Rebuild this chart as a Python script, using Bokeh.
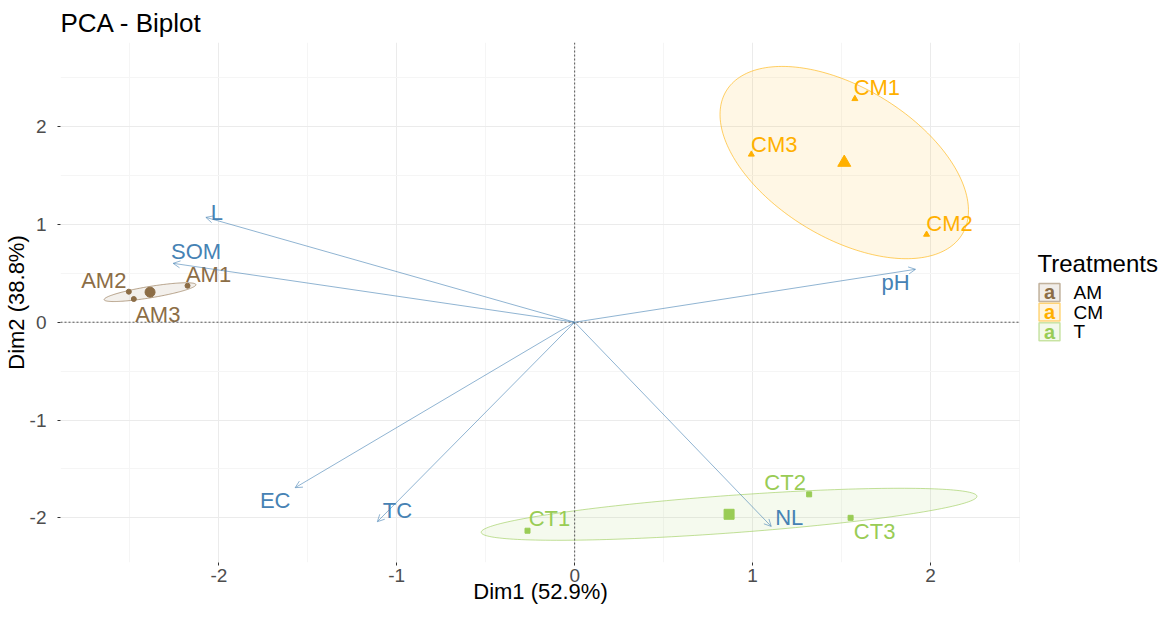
import numpy as np
from bokeh.plotting import figure
from bokeh.models import Range1d, FixedTicker, Span, Arrow, OpenHead, ColumnDataSource
from bokeh.layouts import row
from bokeh.embed import file_html
from bokeh.resources import INLINE
from bokeh.core.properties import value

FONT = "Liberation Sans"

# ---------------- data ----------------
ind_names = ["AM1", "AM2", "AM3", "CM1", "CM2", "CM3", "CT1", "CT2", "CT3"]
ind_group = ["AM", "AM", "AM", "CM", "CM", "CM", "T", "T", "T"]
ind_dim1 = [-2.176, -2.506, -2.478, 1.575, 1.978, 0.993, -0.265, 1.318, 1.551]
ind_dim2 = [0.373, 0.312, 0.237, 2.284, 0.897, 1.716, -2.132, -1.760, -2.000]

var_names = ["L", "SOM", "pH", "EC", "TC", "NL"]
var_dim1 = [-2.073, -2.257, 1.916, -1.571, -1.109, 1.105]
var_dim2 = [1.072, 0.602, 0.541, -1.692, -2.040, -2.088]

groups = ["AM", "CM", "T"]
group_colors = ["#8C6D46", "#FFB000", "#99CC55"]
group_markers = ["circle", "triangle", "square"]

x_ticks = [-2, -1, 0, 1, 2]
y_ticks = [-2, -1, 0, 1, 2]
tick_labels = ["-2", "-1", "0", "1", "2"]
minor_ticks = [-2.5, -1.5, -0.5, 0.5, 1.5, 2.5]
x_title = "Dim1 (52.9%)"
y_title = "Dim2 (38.8%)"

# label placement (screen pixel offsets, layout only)
ind_label_dx = [21, -25, 24, 22, 23, 23, 22, -24, 24]
ind_label_dy = [-11, -11, 15, -11, -11, -10, -12, -12, 14]
var_label_dx = [11, 23, -20, -20, 20, 18]
var_label_dy = [-5, -12, 13, 13, -11, -9]

ELL_K = 1.41
VAR_COLOR = "#4682B4"
X_MIN, X_MAX = -2.89, 2.506
Y_MIN, Y_MAX = -2.457, 2.86

p = figure(frame_width=960, frame_height=520,
           x_range=Range1d(X_MIN, X_MAX), y_range=Range1d(Y_MIN, Y_MAX),
           output_backend="svg", toolbar_location=None, title="PCA - Biplot",
           min_border_left=52, min_border_right=0, min_border_top=35,
           min_border_bottom=45)
p.outline_line_color = None
p.title.text_font = FONT
p.title.text_font_size = "26px"
p.title.text_font_style = "normal"
p.title.text_color = "black"

p.xaxis.ticker = FixedTicker(ticks=x_ticks, minor_ticks=minor_ticks)
p.yaxis.ticker = FixedTicker(ticks=y_ticks, minor_ticks=minor_ticks)
p.xaxis.major_label_overrides = dict(zip(x_ticks, tick_labels))
p.yaxis.major_label_overrides = dict(zip(y_ticks, tick_labels))
p.xaxis.axis_label = x_title
p.yaxis.axis_label = y_title
for ax in (p.xaxis, p.yaxis):
    ax.axis_line_color = None
    ax.major_tick_line_color = "#333333"
    ax.major_tick_out = 3
    ax.major_tick_in = 0
    ax.minor_tick_line_color = None
    ax.major_label_text_font = FONT
    ax.major_label_text_font_size = "19px"
    ax.major_label_text_color = "#4D4D4D"
    ax.axis_label_text_font = FONT
    ax.axis_label_text_font_size = "22px"
    ax.axis_label_text_font_style = "normal"
    ax.axis_label_text_color = "black"
p.xaxis.major_label_standoff = 2
p.xaxis.axis_label_standoff = -6
p.yaxis.major_label_standoff = 10
p.yaxis.axis_label_standoff = -2
for g in (p.xgrid, p.ygrid):
    g.grid_line_color = "#EBEBEB"
    g.grid_line_width = 1
    g.minor_grid_line_color = "#F5F5F5"
    g.minor_grid_line_width = 1

# ellipses
ix = np.array(ind_dim1)
iy = np.array(ind_dim2)
ig = np.array(ind_group)
t = np.linspace(0, 2 * np.pi, 200)
for gname, col in zip(groups, group_colors):
    m = ig == gname
    pts = np.vstack([ix[m], iy[m]])
    mu = pts.mean(axis=1)
    cov = np.cov(pts)
    w, v = np.linalg.eigh(cov)
    circ = np.vstack([np.cos(t), np.sin(t)])
    ell = mu[:, None] + ELL_K * (v @ (np.sqrt(np.maximum(w, 0))[:, None] * circ))
    p.patch(ell[0], ell[1], fill_color=col, fill_alpha=0.1,
            line_color=col, line_alpha=0.6, line_width=1)

# zero lines
p.add_layout(Span(location=0, dimension="height", line_dash="2 2",
                  line_color="#555555", line_width=1))
p.add_layout(Span(location=0, dimension="width", line_dash="2 2",
                  line_color="#555555", line_width=1))

# individual points, centroids and labels
for gname, col, mk in zip(groups, group_colors, group_markers):
    m = ig == gname
    src = ColumnDataSource(dict(
        x=ix[m], y=iy[m],
        name=[n for n, k in zip(ind_names, m) if k],
        dx=[d for d, k in zip(ind_label_dx, m) if k],
        dy=[d for d, k in zip(ind_label_dy, m) if k]))
    p.scatter("x", "y", source=src, marker=mk, size=5 if mk != "triangle" else 6,
              color=col)
    p.scatter([ix[m].mean()], [iy[m].mean()], marker=mk,
              size=10 if mk != "triangle" else 13, color=col)
    p.text("x", "y", text="name", x_offset="dx", y_offset="dy", source=src,
           text_font=value(FONT), text_font_size="22px", text_color=col,
           text_align="center", text_baseline="middle")

# variable arrows
vsrc = ColumnDataSource(dict(x0=[0.0] * len(var_names), y0=[0.0] * len(var_names),
                             x1=var_dim1, y1=var_dim2, name=var_names,
                             dx=var_label_dx, dy=var_label_dy))
p.add_layout(Arrow(source=vsrc, x_start="x0", y_start="y0", x_end="x1", y_end="y1",
                   line_color=VAR_COLOR, line_alpha=0.6, line_width=1,
                   end=OpenHead(size=7, line_color=VAR_COLOR, line_alpha=0.6,
                                line_width=1)))
p.text("x1", "y1", text="name", x_offset="dx", y_offset="dy", source=vsrc,
       text_font=value(FONT), text_font_size="22px", text_color=VAR_COLOR,
       text_align="center", text_baseline="middle")

# ---------------- legend panel ----------------
lg = figure(width=142, height=604, x_range=Range1d(0, 142), y_range=Range1d(604, 0),
            output_backend="svg", toolbar_location=None,
            x_axis_type=None, y_axis_type=None, min_border=0)
lg.grid.visible = False
lg.outline_line_color = None
key_y = [292, 315, 338]
lg.text([17], [258.7], text=["Treatments"], text_font=value(FONT),
        text_font_size="24px", text_color="black", text_baseline="middle")
lsrc = ColumnDataSource(dict(x=[29] * 3, y=key_y, g=groups, c=group_colors,
                             a=["a"] * 3))
lg.rect("x", "y", width=21, height=21, source=lsrc, fill_color="c",
        fill_alpha=0.12, line_color="c", line_alpha=0.5, line_width=1.5)
lg.text("x", "y", text="a", source=lsrc, text_font=value(FONT),
        text_font_size="20px", text_font_style="bold", text_color="c",
        text_align="center", text_baseline="middle")
lg.text([53] * 3, key_y, text=groups, text_font=value(FONT),
        text_font_size="19px", text_color="black", text_baseline="middle")

layout = row(p, lg)
open("out.html", "w").write(file_html(layout, INLINE))
